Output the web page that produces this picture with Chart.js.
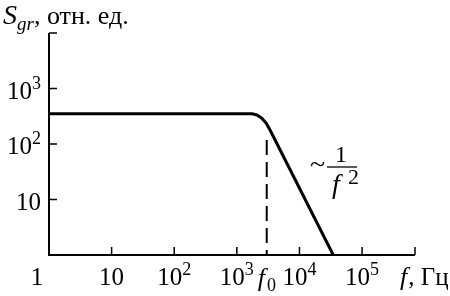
<!DOCTYPE html>
<html><head><meta charset="utf-8">
<script src="https://cdn.jsdelivr.net/npm/chart.js@4/dist/chart.umd.min.js"></script>
<style>html,body{margin:0;padding:0;background:#fff}#wrap{width:450px;height:296px;position:relative}</style>
</head><body><div id="wrap"><canvas id="c"></canvas></div>
<script>
// ---- data ----
const freq = [1, 1750, 2100, 2480, 2930, 3390, 34600];
const spectrum = [350, 350, 333, 294, 239, 179, 1];
const f0 = 3000;
const f0MarkerY = [118, 1];
const xTickValues = [1, 10, 100, 1000, 10000, 100000];
const xTickBase = ['1', '10', '10', '10', '10', '10'];
const xTickExp = ['', '', '2', '3', '4', '5'];
const yTickValues = [10, 100, 1000];
const yTickBase = ['10', '10', '10'];
const yTickExp = ['', '2', '3'];
const xMin = 1, xMax = 700000, yMin = 1, yMax = 10000;

const SERIF = "'Liberation Serif', 'Times New Roman', serif";

function supWidth(ctx, base, exp, bf, ef) {
  ctx.font = bf; let w = ctx.measureText(base).width;
  if (exp) { ctx.font = ef; w += ctx.measureText(exp).width; }
  return w;
}
function drawSup(ctx, base, exp, left, baseline, bf, ef, rise) {
  ctx.font = bf; ctx.fillText(base, left, baseline);
  const w = ctx.measureText(base).width;
  if (exp) { ctx.font = ef; ctx.fillText(exp, left + w, baseline - rise); }
}

const axesPlugin = {
  id: 'axesPlugin',
  afterDatasetsDraw(chart) {
    const ctx = chart.ctx;
    const xs = chart.scales.x, ys = chart.scales.y;
    const L = xs.getPixelForValue(xMin), R = xs.getPixelForValue(xMax);
    const B = ys.getPixelForValue(yMin), T = ys.getPixelForValue(yMax);
    ctx.save();
    ctx.strokeStyle = '#000'; ctx.fillStyle = '#000';
    // axes
    ctx.lineWidth = 2;
    ctx.beginPath();
    ctx.moveTo(L, T); ctx.lineTo(L, B); ctx.lineTo(R, B);
    ctx.stroke();
    // ticks
    ctx.lineWidth = 1.5;
    ctx.beginPath();
    [...yTickValues, yMax].forEach(v => { const p = ys.getPixelForValue(v); ctx.moveTo(L, p); ctx.lineTo(L + 8, p); });
    [...xTickValues.slice(1), xMax].forEach(v => { const p = xs.getPixelForValue(v); ctx.moveTo(p, B); ctx.lineTo(p, B - 8); });
    ctx.stroke();
    // x tick labels
    const bf = '25px ' + SERIF, ef = '18px ' + SERIF;
    ctx.textBaseline = 'alphabetic'; ctx.textAlign = 'left';
    xTickValues.forEach((v, i) => {
      let cx = xs.getPixelForValue(v);
      if (v === xMin) cx -= 12;
      const w = supWidth(ctx, xTickBase[i], xTickExp[i], bf, ef);
      drawSup(ctx, xTickBase[i], xTickExp[i], cx - w / 2, B + 30, bf, ef, 10);
    });
    // f0 label
    {
      const cx = xs.getPixelForValue(f0);
      ctx.font = 'italic 26px ' + SERIF;
      const wf = ctx.measureText('f').width;
      ctx.fillText('f', cx - 9, B + 31);
      ctx.font = '18px ' + SERIF;
      ctx.fillText('0', cx - 9 + wf + 2, B + 36);
    }
    // x axis title
    {
      ctx.font = 'italic 26px ' + SERIF;
      const x0 = 400;
      ctx.fillText('f', x0, B + 30);
      const wf = ctx.measureText('f').width;
      ctx.font = '25px ' + SERIF;
      ctx.fillText(', Гц', x0 + wf + 1, B + 30);
    }
    // y tick labels
    yTickValues.forEach((v, i) => {
      const cy = ys.getPixelForValue(v);
      const w = supWidth(ctx, yTickBase[i], yTickExp[i], bf, ef);
      drawSup(ctx, yTickBase[i], yTickExp[i], L - 8 - w, cy + 10, bf, ef, 10);
    });
    // y axis title
    {
      ctx.font = 'italic 28px ' + SERIF;
      ctx.fillText('S', 3, 24);
      const ws = ctx.measureText('S').width;
      ctx.font = 'italic 19px ' + SERIF;
      ctx.fillText('gr', 3 + ws, 30);
      const wg = ctx.measureText('gr').width;
      ctx.font = '26px ' + SERIF;
      ctx.fillText(', отн. ед.', 3 + ws + wg, 24);
    }
    // annotation ~ 1/f^2
    {
      ctx.font = '28px ' + SERIF;
      ctx.fillText('~', 310, 173);
      ctx.font = '24px ' + SERIF;
      ctx.fillText('1', 335, 162);
      ctx.lineWidth = 1.3;
      ctx.beginPath(); ctx.moveTo(327, 167); ctx.lineTo(357, 167); ctx.stroke();
      ctx.font = 'italic 28px ' + SERIF;
      ctx.fillText('f', 332, 193);
      ctx.font = '22px ' + SERIF;
      ctx.fillText('2', 348, 184);
    }
    ctx.restore();
  }
};

new Chart(document.getElementById('c'), {
  type: 'line',
  data: {
    datasets: [
      {
        data: freq.map((f, i) => ({ x: f, y: spectrum[i] })),
        borderColor: '#000', borderWidth: 3, pointRadius: 0, tension: 0, fill: false,
        borderCapStyle: 'butt', borderJoinStyle: 'round'
      },
      {
        data: f0MarkerY.map(y => ({ x: f0, y })),
        borderColor: '#000', borderWidth: 2, pointRadius: 0, borderDash: [15, 7], fill: false
      }
    ]
  },
  options: {
    responsive: true, maintainAspectRatio: false, animation: false,
    layout: { padding: { left: 49, right: 35, top: 33, bottom: 41 } },
    plugins: { legend: { display: false }, tooltip: { enabled: false } },
    scales: {
      x: { type: 'logarithmic', min: xMin, max: xMax, display: false },
      y: { type: 'logarithmic', min: yMin, max: yMax, display: false }
    }
  },
  plugins: [axesPlugin]
});
</script>
</body></html>
